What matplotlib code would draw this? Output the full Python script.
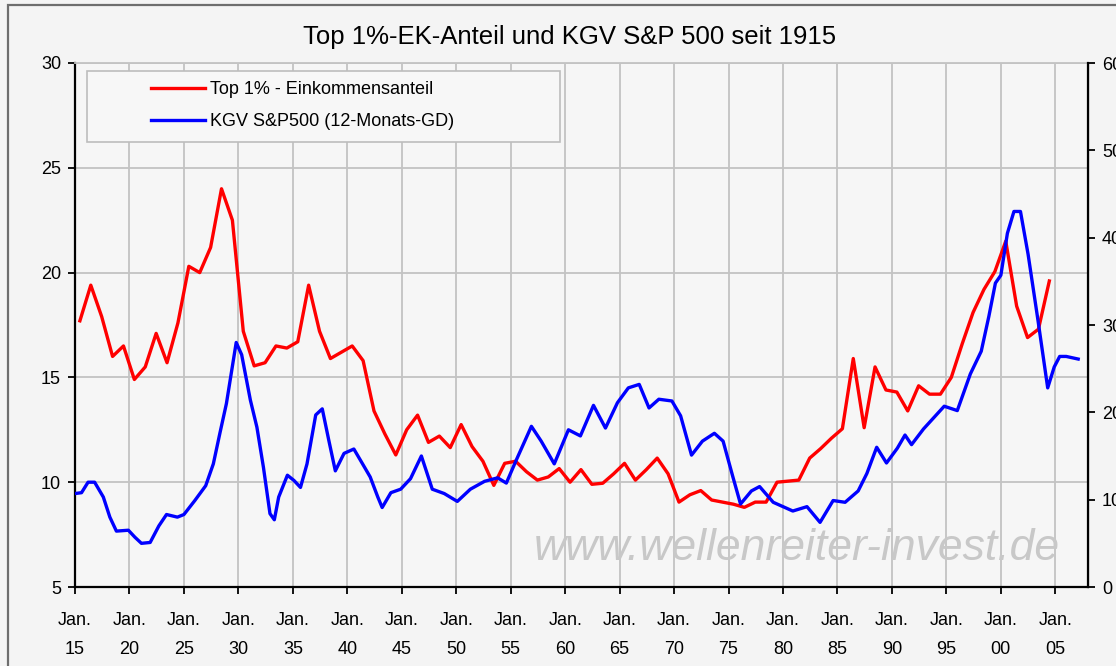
import matplotlib
matplotlib.use("Agg")
import matplotlib.pyplot as plt
from matplotlib.patches import Rectangle
import numpy as np

plt.rcParams["font.family"] = ["Liberation Sans", "DejaVu Sans"]

# Top 1% income share (left axis), yearly
top1_years = list(range(1915, 2005))
top1_share = [17.7, 19.4, 17.9, 16.0, 16.5, 14.9, 15.5, 17.1, 15.7, 17.6,
              20.3, 20.0, 21.2, 24.0, 22.5, 17.2, 15.55, 15.7, 16.5, 16.4,
              16.7, 19.4, 17.2, 15.9, 16.2, 16.5, 15.8, 13.4, 12.3, 11.3,
              12.5, 13.2, 11.9, 12.2, 11.65, 12.75, 11.7, 11.0, 9.85, 10.9,
              11.0, 10.5, 10.1, 10.25, 10.65, 10.0, 10.6, 9.9, 9.95, 10.4,
              10.9, 10.1, 10.6, 11.15, 10.4, 9.05, 9.4, 9.6, 9.15, 9.05,
              8.95, 8.8, 9.05, 9.05, 10.0, 10.05, 10.1, 11.15, 11.6, 12.1,
              12.55, 15.9, 12.6, 15.5, 14.4, 14.3, 13.4, 14.6, 14.2, 14.2,
              15.0, 16.6, 18.1, 19.2, 20.05, 21.5, 18.4, 16.9, 17.3, 19.6]

# S&P 500 P/E, 12-month average (right axis)
pe_years = [1915.0, 1915.6, 1916.2, 1916.8, 1917.6, 1918.2, 1918.8, 1919.9, 1920.5, 1921.1,
            1921.9, 1922.7, 1923.4, 1924.4, 1925.0, 1926.0, 1927.0, 1927.7, 1928.3, 1928.9,
            1929.8, 1930.3, 1931.1, 1931.7, 1932.3, 1932.9, 1933.3, 1933.7, 1934.5, 1935.1,
            1935.7, 1936.3, 1937.1, 1937.7, 1938.3, 1938.9, 1939.7, 1940.6, 1941.4, 1942.1,
            1942.8, 1943.2, 1944.0, 1944.9, 1945.8, 1946.8, 1947.8, 1948.9, 1950.1, 1951.3,
            1952.6, 1953.8, 1954.6, 1955.5, 1956.9, 1957.8, 1959.0, 1960.3, 1961.4, 1962.6,
            1963.7, 1964.8, 1965.8, 1966.8, 1967.7, 1968.6, 1969.8, 1970.6, 1971.6, 1972.6,
            1973.7, 1974.5, 1975.4, 1976.1, 1977.1, 1977.85, 1979.1, 1980.9, 1982.2, 1983.4,
            1984.6, 1985.7, 1986.9, 1987.7, 1988.6, 1989.5, 1990.5, 1991.2, 1991.8, 1992.9,
            1994.8, 1996.0, 1997.2, 1998.2, 1998.9, 1999.5, 2000.0, 2000.6, 2001.2, 2001.8,
            2002.5, 2003.4, 2004.3, 2004.9, 2005.4, 2006.0, 2007.1]
pe_values = [10.7, 10.8, 12.0, 12.0, 10.3, 8.0, 6.4, 6.5, 5.7, 5.0,
             5.1, 7.0, 8.3, 8.0, 8.3, 9.9, 11.6, 14.1, 17.6, 21.0,
             28.0, 26.6, 21.4, 18.3, 13.7, 8.4, 7.7, 10.3, 12.8, 12.2,
             11.4, 14.1, 19.7, 20.4, 16.8, 13.3, 15.3, 15.8, 14.1, 12.6,
             10.3, 9.1, 10.8, 11.2, 12.4, 15.0, 11.2, 10.7, 9.8, 11.2,
             12.1, 12.5, 11.9, 14.5, 18.4, 16.7, 14.1, 18.0, 17.3, 20.8,
             18.2, 21.1, 22.8, 23.2, 20.5, 21.5, 21.3, 19.6, 15.1, 16.7,
             17.6, 16.7, 12.6, 9.5, 11.0, 11.5, 9.7, 8.7, 9.2, 7.4,
             9.9, 9.7, 11.0, 13.0, 16.0, 14.2, 15.9, 17.4, 16.3, 18.1,
             20.7, 20.2, 24.4, 27.0, 31.0, 34.8, 35.7, 40.5, 43.0, 43.0,
             38.1, 30.6, 22.8, 25.2, 26.4, 26.4, 26.1]

tick_years = list(range(1915, 2010, 5))
tick_labels = ["Jan.\n%02d" % (y % 100) for y in tick_years]

bg = "#f4f4f4"
fig = plt.figure(figsize=(11.16, 6.66), dpi=100, facecolor=bg)
W, H = 1116, 666
ax = fig.add_axes([75 / W, 1 - 587 / H, (1088 - 75) / W, (587 - 63) / H])
ax.set_facecolor("#f6f6f6")

# outer frame (cut at right and bottom)
fig.patches.append(Rectangle((8 / W, -0.05), 1.2, 1 - 5 / H + 0.05, transform=fig.transFigure,
                             fill=False, edgecolor="#6e6e6e", linewidth=1.6))

ax.plot(np.array(top1_years) + 0.45, top1_share, color="#ff0000", lw=2.4,
        label="Top 1% - Einkommensanteil")
ax.set_xlim(1915, 2008)
ax.set_ylim(5, 30)
ax.set_yticks([5, 10, 15, 20, 25, 30])
ax.set_xticks(tick_years)
ax.set_xticklabels(tick_labels, linespacing=1.95)
ax.grid(True, color="#c3c3c3", lw=1.3)
ax.set_axisbelow(True)
ax.tick_params(axis="both", labelsize=13, direction="out", length=5, width=1.3, color="black")
ax.tick_params(axis="x", pad=13)
ax.tick_params(axis="y", pad=5)
for s in ["left", "bottom"]:
    ax.spines[s].set_linewidth(1.6)
ax.spines["top"].set_color("#c3c3c3")
ax.spines["top"].set_linewidth(1.3)

ax2 = ax.twinx()
ax2.plot(pe_years, pe_values, color="#0000ff", lw=2.4,
         label="KGV S&P500 (12-Monats-GD)")
ax2.set_ylim(0, 60)
ax2.set_yticks(range(0, 70, 10))
ax2.tick_params(axis="y", labelsize=13, direction="out", length=5, width=1.3, pad=5)
ax2.spines["right"].set_linewidth(1.6)
ax2.spines["top"].set_visible(False)
ax2.spines["left"].set_visible(False)
ax2.spines["bottom"].set_visible(False)

# legend box
ax2.add_patch(Rectangle(((87 - 75) / 1013, 1 - (142 - 63) / 524), (560 - 87) / 1013, 71 / 524,
                        transform=ax2.transAxes, facecolor="#f7f7f7", edgecolor="#bdbdbd",
                        lw=1.2, zorder=5))
h1, l1 = ax.get_legend_handles_labels()
h2, l2 = ax2.get_legend_handles_labels()
leg = ax2.legend(h1 + h2, l1 + l2, loc="upper left",
                 bbox_to_anchor=((151 - 75) / 1013, 1 - (81 - 63) / 524),
                 frameon=False, fontsize=13, handlelength=3.0, handletextpad=0.25,
                 labelspacing=0.85, borderpad=0, borderaxespad=0)
leg.set_zorder(6)

ax2.text(0.713, 0.074, "www.wellenreiter-invest.de", transform=ax2.transAxes,
         fontsize=32, style="italic", color="#c8c8c8", ha="center", va="center", zorder=1)

fig.text(570 / W, 1 - 37 / H, "Top 1%-EK-Anteil und KGV S&P 500 seit 1915",
         fontsize=18.5, ha="center", va="center")

fig.savefig("out.png", dpi=100, facecolor=bg)
